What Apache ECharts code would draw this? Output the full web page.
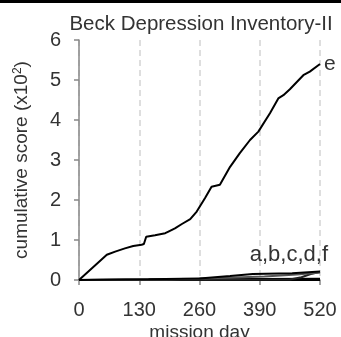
<!DOCTYPE html>
<html>
<head>
<meta charset="utf-8">
<script src="https://cdn.jsdelivr.net/npm/echarts@6/dist/echarts.min.js"></script>
<style>
  html, body { margin: 0; padding: 0; background: #fff; }
  #chart { width: 341px; height: 337px; }
</style>
</head>
<body>
<div id="chart"></div>
<script>
// Cumulative BDI-II score (x10^2) by mission day, one array per crew member
const xTicks = [0, 130, 260, 390, 520];
const yTicks = [0, 1, 2, 3, 4, 5, 6];

const crewE = [
  [0, 0], [60, 0.63], [78, 0.71], [99, 0.79], [117, 0.85], [135, 0.88], [140, 0.9],
  [145, 1.08], [164, 1.12], [186, 1.17], [193, 1.21], [207, 1.29], [222, 1.4],
  [240, 1.52], [254, 1.71], [272, 2.05], [286, 2.33], [304, 2.38], [326, 2.83],
  [347, 3.17], [369, 3.5], [387, 3.71], [412, 4.17], [430, 4.54], [441, 4.62],
  [455, 4.77], [484, 5.12], [498, 5.21], [520, 5.4]
];
const crewA = [[0, 0], [150, 0.02], [260, 0.04], [326, 0.1], [375, 0.15], [460, 0.17], [520, 0.21]];
const crewB = [[0, 0], [200, 0.02], [300, 0.05], [400, 0.09], [470, 0.14], [520, 0.19]];
const crewC = [[0, 0], [455, 0.01], [480, 0.07], [500, 0.15], [520, 0.2]];
const crewD = [[0, 0], [260, 0.02], [520, 0.03]];
const crewF = [[0, 0], [520, 0]];

const FONT = '"Liberation Sans", Arial, sans-serif';
const TEXT = '#333';

function crewLine(name, data, color, extra) {
  return Object.assign({
    name: name,
    type: 'line',
    data: data,
    symbol: 'none',
    silent: true,
    lineStyle: { color: color, width: 2 }
  }, extra || {});
}

const chart = echarts.init(document.getElementById('chart'));
chart.setOption({
  animation: false,
  backgroundColor: '#fff',
  textStyle: { fontFamily: FONT },
  title: {
    text: 'Beck Depression Inventory-II',
    left: 196, top: 9, textAlign: 'center',
    textStyle: { fontFamily: FONT, fontSize: 20.5, fontWeight: 'normal', color: TEXT }
  },
  graphic: [
    { type: 'rect', left: 0, top: 0, shape: { width: 341, height: 3 }, style: { fill: '#000' } }
  ],
  grid: { left: 79, right: 21, top: 40, bottom: 57, containLabel: false, outerBoundsMode: 'none' },
  xAxis: {
    type: 'value', min: 0, max: 520, interval: 130,
    name: 'mission day', nameLocation: 'middle', nameGap: 43, nameMoveOverlap: false,
    nameTextStyle: { fontFamily: FONT, fontSize: 19, color: TEXT },
    axisLine: { show: true, lineStyle: { color: '#888', width: 1.5 } },
    axisTick: { show: true, length: 5, lineStyle: { color: '#888', width: 1.5 } },
    axisLabel: { fontFamily: FONT, fontSize: 20, color: TEXT, margin: 20,
      customValues: xTicks },
    splitLine: { show: true, lineStyle: { color: '#d4d4d4', type: [6, 4], width: 1.5 } }
  },
  yAxis: {
    type: 'value', min: 0, max: 6, interval: 1,
    name: 'cumulative score (x10{sup|2})', nameLocation: 'middle', nameGap: 47,
    nameRotate: 90,
    nameTextStyle: { fontFamily: FONT, fontSize: 19, color: TEXT,
      rich: { sup: { fontFamily: FONT, fontSize: 12, color: TEXT, verticalAlign: 'top', padding: [0, 0, 8, 0] } } },
    axisLine: { show: true, lineStyle: { color: '#888', width: 1.5 } },
    axisTick: { show: true, length: 5, lineStyle: { color: '#888', width: 1.5 } },
    axisLabel: { fontFamily: FONT, fontSize: 20, color: TEXT, margin: 18 },
    splitLine: { show: false }
  },
  series: [
    crewLine('f', crewF, '#000'),
    crewLine('d', crewD, '#000'),
    crewLine('c', crewC, '#222'),
    crewLine('b', crewB, '#555'),
    crewLine('a', crewA, '#000', {
      endLabel: { show: true, formatter: 'a,b,c,d,f', fontFamily: FONT, fontSize: 22,
        color: TEXT, align: 'right', verticalAlign: 'bottom', offset: [0, -6] }
    }),
    crewLine('e', crewE, '#000', {
      endLabel: { show: true, formatter: 'e', fontFamily: FONT, fontSize: 21,
        color: TEXT, distance: 4 }
    })
  ]
});
</script>
</body>
</html>
